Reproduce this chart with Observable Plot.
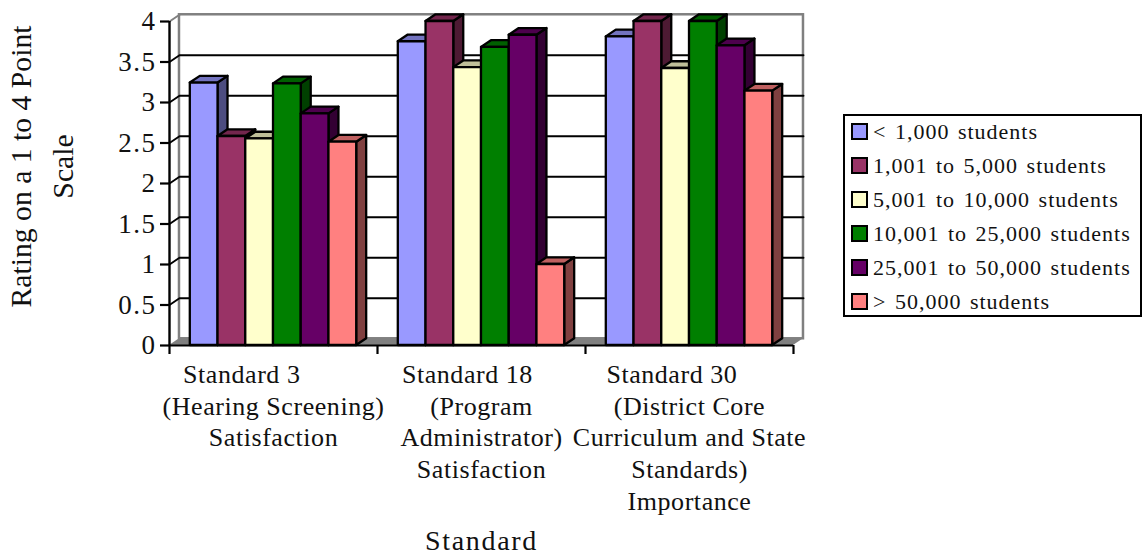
<!DOCTYPE html>
<html>
<head>
<meta charset="utf-8">
<script src="https://cdn.jsdelivr.net/npm/d3@7"></script>
<script src="https://cdn.jsdelivr.net/npm/@observablehq/plot@0.6"></script>
<style>
  html, body { margin: 0; padding: 0; background: #fff; }
  #chart { position: relative; width: 1146px; height: 557px; overflow: hidden; }
  #legend {
    position: absolute; left: 843px; top: 114px; width: 295px; height: 199px;
    border: 2px solid #000; background: #fff;
    font: 22px "Liberation Serif", serif; letter-spacing: 1px; word-spacing: 2px; color: #111;
  }
  .row { position: absolute; left: 0; height: 34px; display: flex; align-items: center; white-space: pre; }
  .swatch { width: 13px; height: 13px; border: 2px solid #000; margin: 0 5px 0 6px; flex: none; }
</style>
</head>
<body>
<div id="chart"></div>
<script>
// District size groups, one value per standard
const sizes = ["< 1,000 students", "1,001 to 5,000 students", "5,001 to 10,000 students",
  "10,001 to 25,000 students", "25,001 to 50,000 students", "> 50,000 students"];
const under1000 = [3.24, 3.75, 3.81];
const from1001 = [2.58, 4.0, 4.0];
const from5001 = [2.55, 3.43, 3.42];
const from10001 = [3.23, 3.68, 4.0];
const from25001 = [2.86, 3.83, 3.7];
const over50000 = [2.51, 1.0, 3.14];
const seriesValues = [under1000, from1001, from5001, from10001, from25001, over50000];

// Trailing no-break spaces keep the first lines set off to the left of the group centre
const pad = n => "\u00a0".repeat(n);
const standards = [
  "Standard 3" + pad(9) + "\n(Hearing Screening)\nSatisfaction",
  "Standard 18" + pad(4) + "\n(Program\nAdministrator)\nSatisfaction",
  "Standard 30" + pad(5) + "\n(District Core\nCurriculum and State\nStandards)\nImportance"
];
const yTicks = [0, 0.5, 1, 1.5, 2, 2.5, 3, 3.5, 4];
const gridLevels = [0.5, 1, 1.5, 2, 2.5, 3, 3.5];

const frontColors = ["#9999ff", "#993366", "#ffffcc", "#007f00", "#660066", "#ff8080"];
const topColors = ["#7373bf", "#73264d", "#bfbf99", "#006000", "#4d004d", "#bf6060"];
const sideColors = ["#4d4d80", "#4d1a33", "#808066", "#004000", "#330033", "#804040"];

// Extrusion of the chart box, in scale units
const depthX = 0.048;
const depthY = 0.083;
const groupGap = 0.1;
const barWidth = (1 - 2 * groupGap) / sizes.length;

const edge = {stroke: "#000", strokeWidth: 2.3, strokeLinejoin: "round"};

// Each bar paints side, top and front, left to right so later bars overlap earlier sides
const barMarks = standards.flatMap((_, g) => sizes.flatMap((_, s) => {
  const v = seriesValues[s][g];
  const x0 = g + groupGap + s * barWidth;
  const x1 = x0 + barWidth;
  const side = [{x: x1, y1: 0, y2: v}, {x: x1 + depthX, y1: depthY, y2: v + depthY}];
  const top = [{y: v, x1: x0, x2: x1}, {y: v + depthY, x1: x0 + depthX, x2: x1 + depthX}];
  return [
    Plot.areaY(side, {x: "x", y1: "y1", y2: "y2", fill: sideColors[s], ...edge}),
    Plot.areaX(top, {y: "y", x1: "x1", x2: "x2", fill: topColors[s], ...edge}),
    Plot.rect([{x1: x0, x2: x1, y1: 0, y2: v}], {x1: "x1", x2: "x2", y1: "y1", y2: "y2", fill: frontColors[s], ...edge})
  ];
}));

const wallMarks = [
  Plot.rect([{}], {x1: () => depthX, x2: () => 3 + depthX, y1: () => depthY, y2: () => 4 + depthY,
    fill: "#fff", stroke: "#808080", strokeWidth: 2.5}),
  Plot.line([{x: 0, y: 4}, {x: depthX, y: 4 + depthY}], {x: "x", y: "y", stroke: "#808080", strokeWidth: 2}),
  Plot.areaX([{y: 0, x1: 0, x2: 3}, {y: depthY, x1: depthX, x2: 3 + depthX}],
    {y: "y", x1: "x1", x2: "x2", fill: "#808080"})
];

const gridMarks = gridLevels.map(level =>
  Plot.line([{x: 0, y: level}, {x: depthX, y: level + depthY}, {x: 3 + depthX, y: level + depthY}],
    {x: "x", y: "y", stroke: "#000", strokeWidth: 1.9})
);

// Letter spacing per text group, since Plot's text mark has no option for it
const spaced = (mark, spacing) => {
  const render = mark.render;
  mark.render = function (...args) {
    const g = render.apply(this, args);
    g.style.letterSpacing = spacing;
    return g;
  };
  return mark;
};

const plot = Plot.plot({
  width: 1146,
  height: 557,
  marginLeft: 169,
  marginRight: 353,
  marginTop: 21,
  marginBottom: 212,
  style: {fontFamily: "'Liberation Serif', serif", color: "#111", background: "#fff", overflow: "visible"},
  x: {domain: [0, 3], axis: null},
  y: {domain: [0, 4], axis: null},
  marks: [
    ...wallMarks,
    ...gridMarks,
    Plot.ruleX([0], {y1: 0, y2: 4, stroke: "#000", strokeWidth: 2.4}),
    Plot.axisY({ticks: yTicks, tickFormat: () => "", tickSize: 9, stroke: "#000", strokeWidth: 2.2, label: null}),
    spaced(Plot.text(yTicks, {
      frameAnchor: "left", y: d => d, text: String, textAnchor: "end", dx: -13,
      fontSize: 27, fill: "#111"
    }), "1.5px"),
    Plot.ruleY([0], {x1: 0, x2: 3, stroke: "#000", strokeWidth: 2.2}),
    Plot.axisX({ticks: [0, 1, 2, 3], tickFormat: () => "", tickSize: 9, stroke: "#000", strokeWidth: 2.2, label: null}),
    ...barMarks,
    spaced(Plot.text(standards, {
      x: (_, i) => i + 0.5, y: () => 0, text: d => d, dy: 15, lineAnchor: "top",
      fontSize: 26, lineHeight: 1.22, fill: "#111"
    }), "0.55px"),
    spaced(Plot.text(["Standard"], {x: () => 1.5, y: () => 0, text: d => d, dy: 196, fontSize: 28, fill: "#111"}), "1.7px"),
    Plot.text(["Rating on a 1 to 4 Point\nScale"], {
      frameAnchor: "left", y: () => 2.21, text: d => d, textAnchor: "middle", dx: -131, rotate: -90,
      fontSize: 29.7, lineHeight: 1.41, fill: "#111"
    })
  ]
});

const chart = document.getElementById("chart");
chart.appendChild(plot);

// Legend box beside the plot
const legend = document.createElement("div");
legend.id = "legend";
sizes.forEach((label, i) => {
  const row = document.createElement("div");
  row.className = "row";
  row.style.top = `${i * 34 - 1.5}px`;
  const swatch = document.createElement("span");
  swatch.className = "swatch";
  swatch.style.background = frontColors[i];
  row.appendChild(swatch);
  row.appendChild(document.createTextNode(label));
  legend.appendChild(row);
});
chart.appendChild(legend);
</script>
</body>
</html>
